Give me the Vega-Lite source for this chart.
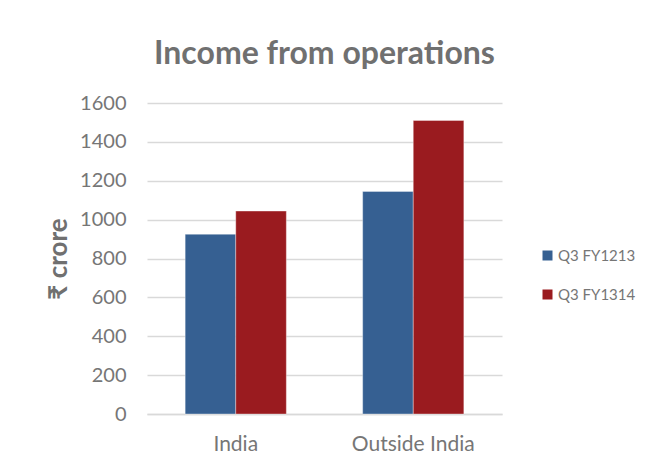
{
  "$schema": "https://vega.github.io/schema/vega-lite/v6.json",
  "width": 355,
  "height": 311,
  "autosize": {"type": "none"},
  "padding": {"left": 147, "top": 103, "right": 146, "bottom": 56},
  "background": "#ffffff",
  "title": {
    "text": "Income from operations",
    "font": "Lato",
    "fontSize": 32,
    "fontWeight": "bold",
    "color": "#707070",
    "offset": 22,
    "anchor": "middle"
  },
  "data": {
    "values": [
      {"region": "India", "period": "Q3 FY1213", "value": 925},
      {"region": "India", "period": "Q3 FY1314", "value": 1044},
      {"region": "Outside India", "period": "Q3 FY1213", "value": 1145},
      {"region": "Outside India", "period": "Q3 FY1314", "value": 1510}
    ]
  },
  "mark": {"type": "bar", "stroke": "#ffffff", "strokeWidth": 0.6, "strokeOpacity": 0.6},
  "encoding": {
    "x": {
      "field": "region",
      "type": "nominal",
      "sort": null,
      "scale": {"paddingInner": 0.43, "paddingOuter": 0.215},
      "axis": {
        "title": null,
        "labelAngle": 0,
        "labelFont": "Lato",
        "labelFontSize": 21,
        "labelColor": "#767676",
        "labelPadding": 19,
        "ticks": false,
        "domain": true,
        "domainColor": "#d9d9d9",
        "domainWidth": 1.3
      }
    },
    "xOffset": {"field": "period", "type": "nominal", "sort": null, "scale": {"paddingInner": 0, "paddingOuter": 0}},
    "y": {
      "field": "value",
      "type": "quantitative",
      "scale": {"domain": [0, 1600], "nice": false},
      "axis": {
        "title": "₹ crore",
        "titleFont": "Lato",
        "titleFontSize": 26,
        "titleFontWeight": "bold",
        "titleColor": "#707070",
        "titlePadding": 8,
        "values": [0, 200, 400, 600, 800, 1000, 1200, 1400, 1600],
        "format": "d",
        "labelFont": "Lato",
        "labelFontSize": 20,
        "labelColor": "#767676",
        "labelPadding": 21,
        "ticks": false,
        "domain": false,
        "grid": true,
        "gridColor": "#d9d9d9",
        "gridWidth": 1.3
      }
    },
    "color": {
      "field": "period",
      "type": "nominal",
      "sort": null,
      "scale": {"domain": ["Q3 FY1213", "Q3 FY1314"], "range": ["#366092", "#9a1b1f"]},
      "legend": {
        "title": null,
        "orient": "none",
        "legendX": 393,
        "legendY": 145,
        "symbolType": "square",
        "symbolSize": 100,
        "symbolStrokeWidth": 0,
        "labelFont": "Lato",
        "labelFontSize": 15,
        "labelColor": "#767676",
        "labelOffset": 3,
        "rowPadding": 23
      }
    }
  },
  "config": {"view": {"stroke": null}}
}
